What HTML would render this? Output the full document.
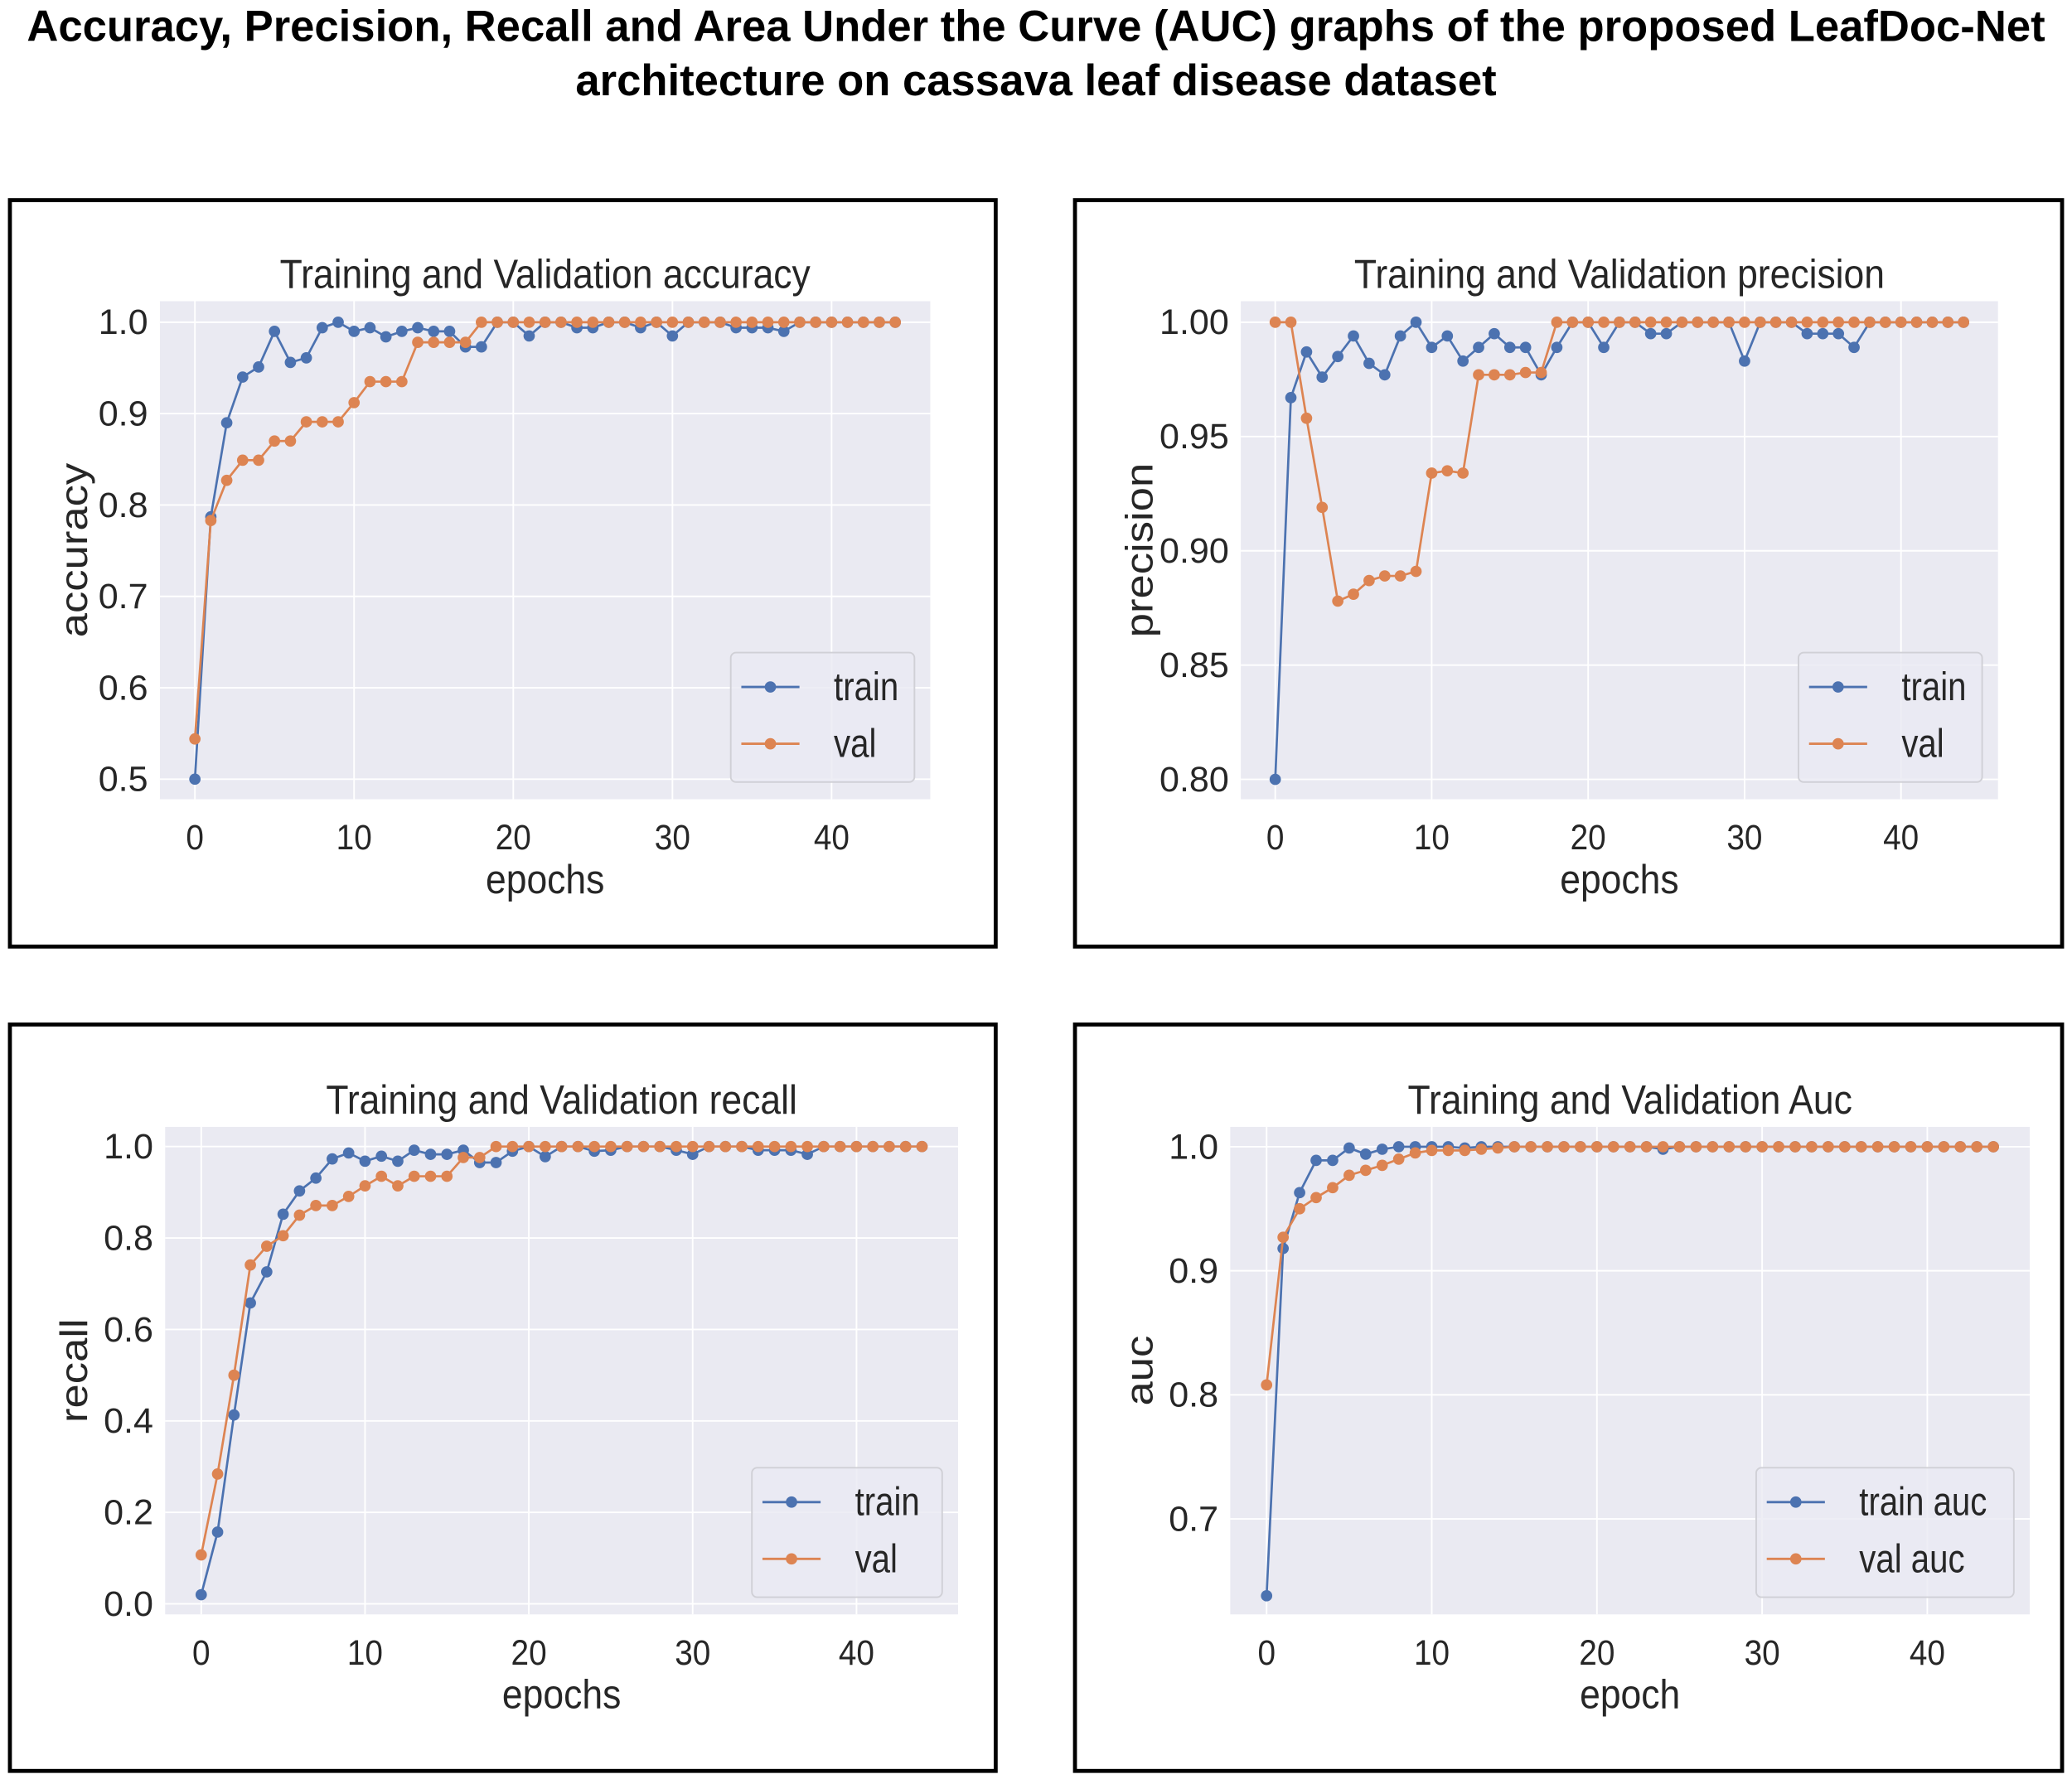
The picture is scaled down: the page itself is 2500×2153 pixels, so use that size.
<!DOCTYPE html>
<html><head><meta charset="utf-8"><style>
html,body{margin:0;padding:0;background:#fff;}
svg{display:block;}
text{font-family:"Liberation Sans",Arial,sans-serif;}
</style></head><body>
<svg id="fig" xmlns="http://www.w3.org/2000/svg" width="2500" height="2153" viewBox="0 0 1568 1350.4" preserveAspectRatio="none">
<text x="784" y="31" text-anchor="middle" font-size="33" font-weight="bold" fill="#000">Accuracy, Precision, Recall and Area Under the Curve (AUC) graphs of the proposed LeafDoc-Net</text>
<text x="784" y="72" text-anchor="middle" font-size="33" font-weight="bold" fill="#000">architecture on cassava leaf disease dataset</text>
</svg>
<script>
const epochs = Array.from({length:45},(_,i)=>i);
const accTrain = [0.5,0.787,0.89,0.94,0.951,0.99,0.956,0.961,0.994,1.0,0.99,0.994,0.984,0.99,0.994,0.99,0.99,0.973,0.973,1,1,0.985,1,1,0.994,0.994,1,1,0.994,1,0.985,1,1,1,0.994,0.994,0.994,0.99,1,1,1,1,1,1,1];
const accVal = [0.544,0.783,0.827,0.849,0.849,0.87,0.87,0.891,0.891,0.891,0.912,0.935,0.935,0.935,0.978,0.978,0.978,0.978,1,1,1,1,1,1,1,1,1,1,1,1,1,1,1,1,1,1,1,1,1,1,1,1,1,1,1];
const precTrain = [0.80,0.967,0.987,0.976,0.985,0.994,0.982,0.977,0.994,1.0,0.989,0.994,0.983,0.989,0.995,0.989,0.989,0.977,0.989,1,1,0.989,1,1,0.995,0.995,1,1,1,1,0.983,1,1,1,0.995,0.995,0.995,0.989,1,1,1,1,1,1,1];
const precVal = [1.0,1.0,0.958,0.919,0.878,0.881,0.887,0.889,0.889,0.891,0.934,0.935,0.934,0.977,0.977,0.977,0.978,0.978,1,1,1,1,1,1,1,1,1,1,1,1,1,1,1,1,1,1,1,1,1,1,1,1,1,1,1];
const recTrain = [0.02,0.157,0.413,0.658,0.726,0.852,0.903,0.931,0.973,0.986,0.968,0.979,0.968,0.992,0.983,0.983,0.992,0.965,0.965,0.99,1,0.978,1,1,0.99,0.992,1,1,1,0.992,0.983,1,1,1,0.992,0.992,0.992,0.983,1,1,1,1,1,1,1];
const recVal = [0.107,0.284,0.5,0.741,0.782,0.805,0.85,0.871,0.871,0.891,0.914,0.935,0.914,0.935,0.935,0.935,0.976,0.976,1,1,1,1,1,1,1,1,1,1,1,1,1,1,1,1,1,1,1,1,1,1,1,1,1,1,1];
const aucTrain = [0.638,0.918,0.963,0.989,0.989,0.999,0.994,0.998,1,1,1,1,0.999,1,1,1,1,1,1,1,1,1,1,1,0.998,1,1,1,1,1,1,1,1,1,1,1,1,1,1,1,1,1,1,1,1];
const aucVal = [0.808,0.927,0.95,0.959,0.967,0.977,0.981,0.985,0.99,0.995,0.997,0.997,0.997,0.998,0.999,1,1,1,1,1,1,1,1,1,1,1,1,1,1,1,1,1,1,1,1,1,1,1,1,1,1,1,1,1,1];
const accTicks = [0.5,0.6,0.7,0.8,0.9,1.0];
const precTicks = [0.80,0.85,0.90,0.95,1.00];
const recTicks = [0.0,0.2,0.4,0.6,0.8,1.0];
const aucTicks = [0.7,0.8,0.9,1.0];
const xTicks = [0,10,20,30,40];

const NS='http://www.w3.org/2000/svg';
const svg=document.getElementById('fig');
function mk(tag,attrs,parent){const e=document.createElementNS(NS,tag);for(const k in attrs)e.setAttribute(k,attrs[k]);(parent||svg).appendChild(e);return e;}
function txt(str,x,y,size,anchor,parent,rot,sx,sy){
  const t=mk('text',{x:0,y:0,'font-size':size,'text-anchor':anchor,fill:'#262626'},parent);
  t.setAttribute('transform','translate('+x+','+y+')'+(rot?' rotate('+rot+')':'')+' scale('+(sx||1)+','+(sy||1)+')');
  t.textContent=str;return t;
}
const BLUE='#4c72b0',ORANGE='#dd8452';
const panels=[
 {name:'accuracy',box:[6,150,749,568],plot:[121,228,704,605],yd:[0.478,1.023],xd:[-2.2,46.2],ticks:accTicks,dec:1,title:'Training and Validation accuracy',yl:'accuracy',xl:'epochs',tr:accTrain,va:accVal,lab:['train','val'],lw:139},
 {name:'precision',box:[812,150,750,568],plot:[939,228,1512,605],yd:[0.7913,1.0092],xd:[-2.2,46.2],ticks:precTicks,dec:2,title:'Training and Validation precision',yl:'precision',xl:'epochs',tr:precTrain,va:precVal,lab:['train','val'],lw:139},
 {name:'recall',box:[6,774,749,568],plot:[125,853,725,1222],yd:[-0.023,1.043],xd:[-2.2,46.2],ticks:recTicks,dec:1,title:'Training and Validation recall',yl:'recall',xl:'epochs',tr:recTrain,va:recVal,lab:['train','val'],lw:144},
 {name:'auc',box:[812,774,750,568],plot:[931,853,1536,1222],yd:[0.623,1.016],xd:[-2.2,46.2],ticks:aucTicks,dec:1,title:'Training and Validation Auc',yl:'auc',xl:'epoch',tr:aucTrain,va:aucVal,lab:['train auc','val auc'],lw:195}
];
panels.forEach(p=>{
  const g=mk('g',{});
  
  
  const [L,T,R,B]=p.plot;
  const xs=v=>L+(v-p.xd[0])/(p.xd[1]-p.xd[0])*(R-L);
  const ys=v=>B-(v-p.yd[0])/(p.yd[1]-p.yd[0])*(B-T);
  const frame=mk('rect',{x:p.box[0]+1.5,y:p.box[1]+1.5,width:p.box[2]-3,height:p.box[3]-3,fill:'none',stroke:'#000','stroke-width':3},g);
  
  
  const bg=mk('rect',{x:L,y:T,width:R-L,height:B-T,fill:'#eaeaf2'},g);
  
  
  p.ticks.forEach(v=>{
    mk('line',{x1:L,x2:R,y1:ys(v),y2:ys(v),stroke:'#fff','stroke-width':1.2},g);
    const t=txt(v.toFixed(p.dec),L-9,ys(v)+9,27,'end',g,0,1,1);
    
    
  });
  xTicks.forEach(v=>{
    mk('line',{x1:xs(v),x2:xs(v),y1:T,y2:B,stroke:'#fff','stroke-width':1.2},g);
    const t=txt(String(v),xs(v),B+38,27,'middle',g,0,0.9,1);
    
    
  });
  const ti=txt(p.title,(L+R)/2,T-10,31,'middle',g,0,0.9,1);
  
  
  const xl=txt(p.xl,(L+R)/2,B+71,31,'middle',g,0,0.9,1);
  
  
  const yl=txt(p.yl,p.box[0]+60,(T+B)/2,33,'middle',g,-90,1,0.88);
  
  
  [[p.tr,BLUE,'train'],[p.va,ORANGE,'val']].forEach(([arr,c,s])=>{
    const pts=arr.map((v,i)=>xs(epochs[i]).toFixed(2)+','+ys(v).toFixed(2)).join(' ');
    const pl=mk('polyline',{points:pts,fill:'none',stroke:c,'stroke-width':1.7},g);
    
    
    arr.forEach((v,i)=>{
      const m=mk('circle',{cx:xs(epochs[i]),cy:ys(v),r:4.3,fill:c},g);
      
      
    });
  });
  const lx=R-12-p.lw, ly=B-13-98;
  const lg=mk('g',{},g);
  
  
  mk('rect',{x:lx,y:ly,width:p.lw,height:98,rx:4,fill:'#eaeaf2','fill-opacity':0.8,stroke:'#d0d0d6','stroke-width':1.2},lg);
  [[BLUE,p.lab[0],26],[ORANGE,p.lab[1],69]].forEach(([c,l,dy],k)=>{
    const e=mk('g',{},lg);
    
    
    mk('line',{x1:lx+8,x2:lx+52,y1:ly+dy,y2:ly+dy,stroke:c,'stroke-width':1.8},e);
    mk('circle',{cx:lx+30,cy:ly+dy,r:4.3,fill:c},e);
    txt(l,lx+78,ly+dy+10,30,'start',e,0,0.84,1);
  });
});
</script>
</body></html>
